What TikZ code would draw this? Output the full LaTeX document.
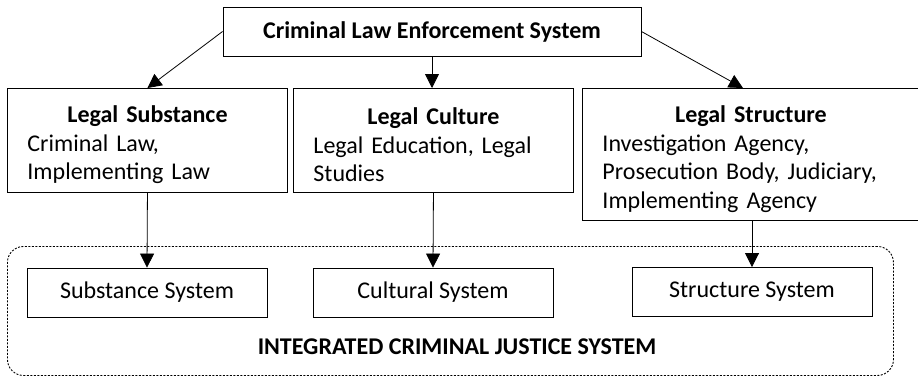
\documentclass[tikz,border=0pt]{standalone}
\usepackage{fontspec}
\setmainfont{Carlito}
\usetikzlibrary{arrows.meta}

% centred bold heading on top of a left aligned box text
\newcommand{\comptitle}[1]{\hbox to \hsize{\hss\vrule height 26pt width 0pt\bfseries #1\hss}\\}

\begin{document}
\begin{tikzpicture}[x=1pt, y=-1pt,
    every node/.style={font=\fontsize{24}{28.5}\selectfont},
    box/.style={draw, line width=0.9pt, inner sep=0pt},
    infobox/.style={box, anchor=north west, align=left, inner xsep=20pt},
    sysbox/.style={box, minimum width=240pt, minimum height=49pt},
    arr/.style={line width=0.8pt, -{Triangle[width=14pt,length=14pt]}}]
    \useasboundingbox (0,0) rectangle (918,376);

    % Top level
    \node[box, minimum width=418pt, minimum height=49pt,
          font=\fontsize{24}{28.5}\selectfont\bfseries] (cles) at (432,31.5)
          {Criminal Law Enforcement System};

    % Three components of the system
    \node[infobox, text width=240pt, minimum height=104pt] (subst) at (7,88)
          {\comptitle{Legal Substance}Criminal Law,\\Implementing Law};
    \node[infobox, text width=240pt, minimum height=104pt] (cult) at (293,88)
          {\comptitle{Legal Culture}Legal Education, Legal\\Studies};
    \node[infobox, text width=297pt, minimum height=132pt] (struct) at (582,88)
          {\comptitle{Legal Structure}Investigation Agency,\\Prosecution Body, Judiciary,\\Implementing Agency};

    % Integrated frame with its subsystems
    \node[box, dash pattern=on 2pt off 1.5pt, rounded corners=16pt, anchor=north west,
          minimum width=886pt, minimum height=129pt] (icjs) at (7,246) {};
    \node[sysbox] (substsys) at (147,292.5) {Substance System};
    \node[sysbox] (cultsys) at (433,292.5) {Cultural System};
    \node[sysbox] (structsys) at (752,292) {Structure System};
    \node[font=\fontsize{24}{28.5}\selectfont\bfseries] (icjslabel) at (457,347)
          {INTEGRATED CRIMINAL JUSTICE SYSTEM};

    % Arrows
    \draw[arr] (cles.west) -- (subst.north);
    \draw[arr] (cles.south) -- (cles.south |- cult.north);
    \draw[arr] (cles.east) -- ([xshift=-8pt]struct.north);
    \draw[arr] (subst.south) -- (substsys.north);
    \draw[arr] (cult.south) -- (cultsys.north);
    \draw[arr] (structsys.north |- struct.south) -- (structsys.north);
\end{tikzpicture}
\end{document}
